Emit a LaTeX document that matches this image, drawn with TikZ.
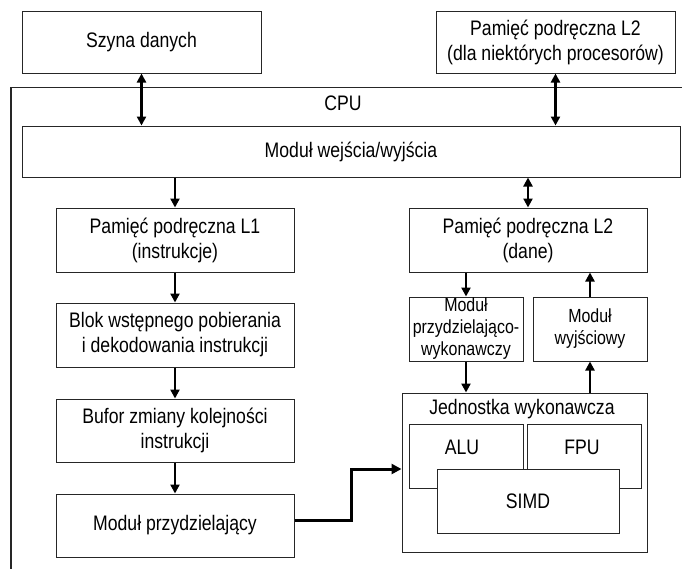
\documentclass[tikz,border=0pt]{standalone}
\usepackage{fontspec}
\setmainfont{Liberation Sans}[FakeStretch=0.84]
\usetikzlibrary{arrows.meta}
\begin{document}
\begin{tikzpicture}[x=1pt,y=-1pt,
  box/.style={draw=black!85, line width=1pt, fill=white, inner sep=0pt, align=center,
    font=\fontsize{21}{25}\selectfont},
  smallbox/.style={box, font=\fontsize{19}{22}\selectfont},
  lbl/.style={inner sep=0pt, font=\fontsize{21}{25}\selectfont},
  arr/.style={line width=2.4pt, -{Triangle[length=9pt,width=9pt]}},
  biarr/.style={line width=2.4pt, {Triangle[length=9pt,width=9pt]}-{Triangle[length=9pt,width=9pt]}},
  thickarr/.style={line width=3pt, -{Triangle[length=10pt,width=10pt]}},
  frame/.style={draw=black!85, line width=1.3pt}]
\useasboundingbox (0,0) rectangle (682,568);
\fill[white] (0,0) rectangle (682,568);

% CPU frame
\draw[frame] (11,570) -- (11,87.5) -- (684,87.5);
\node[lbl] (cpu) at (343,103) {CPU};

% outside boxes
\node[box, minimum width=239pt, minimum height=62pt] (szyna) at (141.5,42) {Szyna danych};
\node[box, minimum width=239pt, minimum height=62pt] (l2top) at (555.5,42) {Pamięć podręczna L2\\(dla niektórych procesorów)};

% I/O
\node[box, minimum width=658pt, minimum height=51pt] (io) at (351,151.5) {Moduł wejścia/wyjścia};

% left column
\node[box, minimum width=238pt, minimum height=64pt] (l1) at (175,240) {Pamięć podręczna L1\\(instrukcje)};
\node[box, minimum width=238pt, minimum height=64pt] (blok) at (175,335) {Blok wstępnego pobierania\\i dekodowania instrukcji};
\node[box, minimum width=238pt, minimum height=63pt] (bufor) at (175,430.5) {Bufor zmiany kolejności\\instrukcji};
\node[box, minimum width=238pt, minimum height=63pt] (mprz) at (175,525.5) {Moduł przydzielający};

% right column
\node[box, minimum width=238pt, minimum height=64pt] (l2d) at (528,240) {Pamięć podręczna L2\\(dane)};
\node[smallbox, minimum width=114pt, minimum height=64pt] (mpw) at (466,329) {Moduł\\przydzielająco-\\wykonawczy};
\node[smallbox, minimum width=114pt, minimum height=64pt] (mwy) at (590,329) {Moduł\\wyjściowy};

% execution unit
\node[box, minimum width=245pt, minimum height=159pt] (jed) at (524.5,472.5) {};
\node[lbl] (jedt) at (522,409) {Jednostka wykonawcza};
\node[box, minimum width=114pt, minimum height=64pt] (alu) at (466,456) {};
\node[lbl] (alut) at (462,447) {ALU};
\node[box, minimum width=114pt, minimum height=64pt] (fpu) at (584,456) {};
\node[lbl] (fput) at (582,447) {FPU};
\node[box, minimum width=182pt, minimum height=64pt] (simd) at (528,501) {SIMD};

% connectors
\draw[biarr] (szyna.south) -- (szyna.south |- io.north);
\draw[biarr] (l2top.south) -- (l2top.south |- io.north);
\draw[arr] (l1.north |- io.south) -- (l1.north);
\draw[biarr] (l2d.north |- io.south) -- (l2d.north);
\draw[arr] (l1.south) -- (blok.north);
\draw[arr] (blok.south) -- (bufor.north);
\draw[arr] (bufor.south) -- (mprz.north);
\draw[arr] (mpw.north |- l2d.south) -- (mpw.north);
\draw[arr] (mwy.north) -- (mwy.north |- l2d.south);
\draw[arr] (mpw.south) -- (mpw.south |- jed.north);
\draw[arr] (mwy.south |- jed.north) -- (mwy.south);
\draw[thickarr] ([yshift=5pt]mprz.east) -- ([xshift=57pt,yshift=5pt]mprz.east) |- ([yshift=3.5pt]jed.west);
\end{tikzpicture}
\end{document}
